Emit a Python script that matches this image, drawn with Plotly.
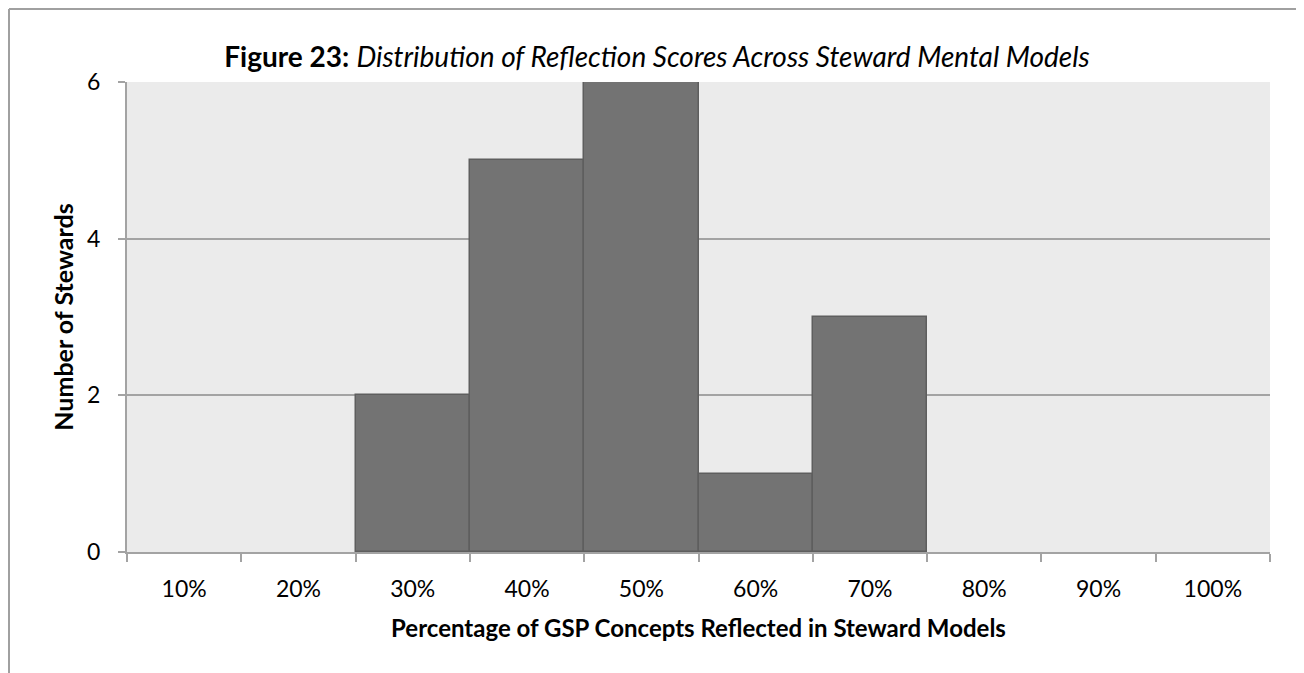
import plotly.graph_objects as go

categories = ["10%", "20%", "30%", "40%", "50%", "60%", "70%", "80%", "90%", "100%"]
stewards = [0, 0, 2, 5, 6, 1, 3, 0, 0, 0]
y_ticks = [0, 2, 4, 6]

FONT = "Lato"
AX = "#A3A3A3"

W, H = 1304, 673
L, R, T, B = 119, 42, 74, 129
PW, PH = W - L - R, H - T - B

fig = go.Figure()
fig.add_trace(go.Bar(
    x=categories, y=stewards,
    marker=dict(color="#737373",
                line=dict(color="#5E5E5E", width=[1.5 if v else 0 for v in stewards])),
))

fig.update_layout(
    width=W, height=H,
    margin=dict(l=L, r=R, t=T, b=B),
    paper_bgcolor="white", plot_bgcolor="#EBEBEB",
    bargap=0, showlegend=False,
    font=dict(family=FONT, color="#000000", size=23),
    title=dict(
        text="<b>Figure 23:</b> <i>Distribution of Reflection Scores Across Steward Mental Models</i>",
        x=649 / W, xanchor="center", y=1 - 49 / H, yanchor="middle",
        font=dict(family=FONT, size=28),
    ),
    xaxis=dict(
        type="category", tickson="boundaries", ticks="outside", ticklen=8,
        tickcolor=AX, tickwidth=2, showline=True, linecolor=AX, linewidth=2,
        showgrid=False, tickfont=dict(size=23), ticklabelstandoff=15,
        layer="above traces",
        title=dict(text="<b>Percentage of GSP Concepts Reflected in Steward Models</b>",
                   font=dict(size=24), standoff=20),
    ),
    yaxis=dict(
        range=[0, 6], tickvals=y_ticks, ticks="outside", ticklen=7,
        tickcolor=AX, tickwidth=2, showline=True, linecolor=AX, linewidth=2,
        showgrid=True, gridcolor=AX, gridwidth=2, zeroline=False,
        tickfont=dict(size=23), ticklabelstandoff=13,
        title=dict(text="<b>Number of Stewards</b>", font=dict(size=25), standoff=6),
    ),
)

# outer frame (left and top edges visible in the reference)
fx = (1 - L) / PW
fy = 1 + (T - 1) / PH
fig.add_shape(type="line", xref="paper", yref="paper",
              x0=fx, x1=1 + (R + 20) / PW, y0=fy, y1=fy,
              line=dict(color="#A0A0A0", width=2))
fig.add_shape(type="line", xref="paper", yref="paper",
              x0=fx, x1=fx, y0=fy, y1=-(B + 20) / PH,
              line=dict(color="#A0A0A0", width=2))

fig.write_html("out.html")
